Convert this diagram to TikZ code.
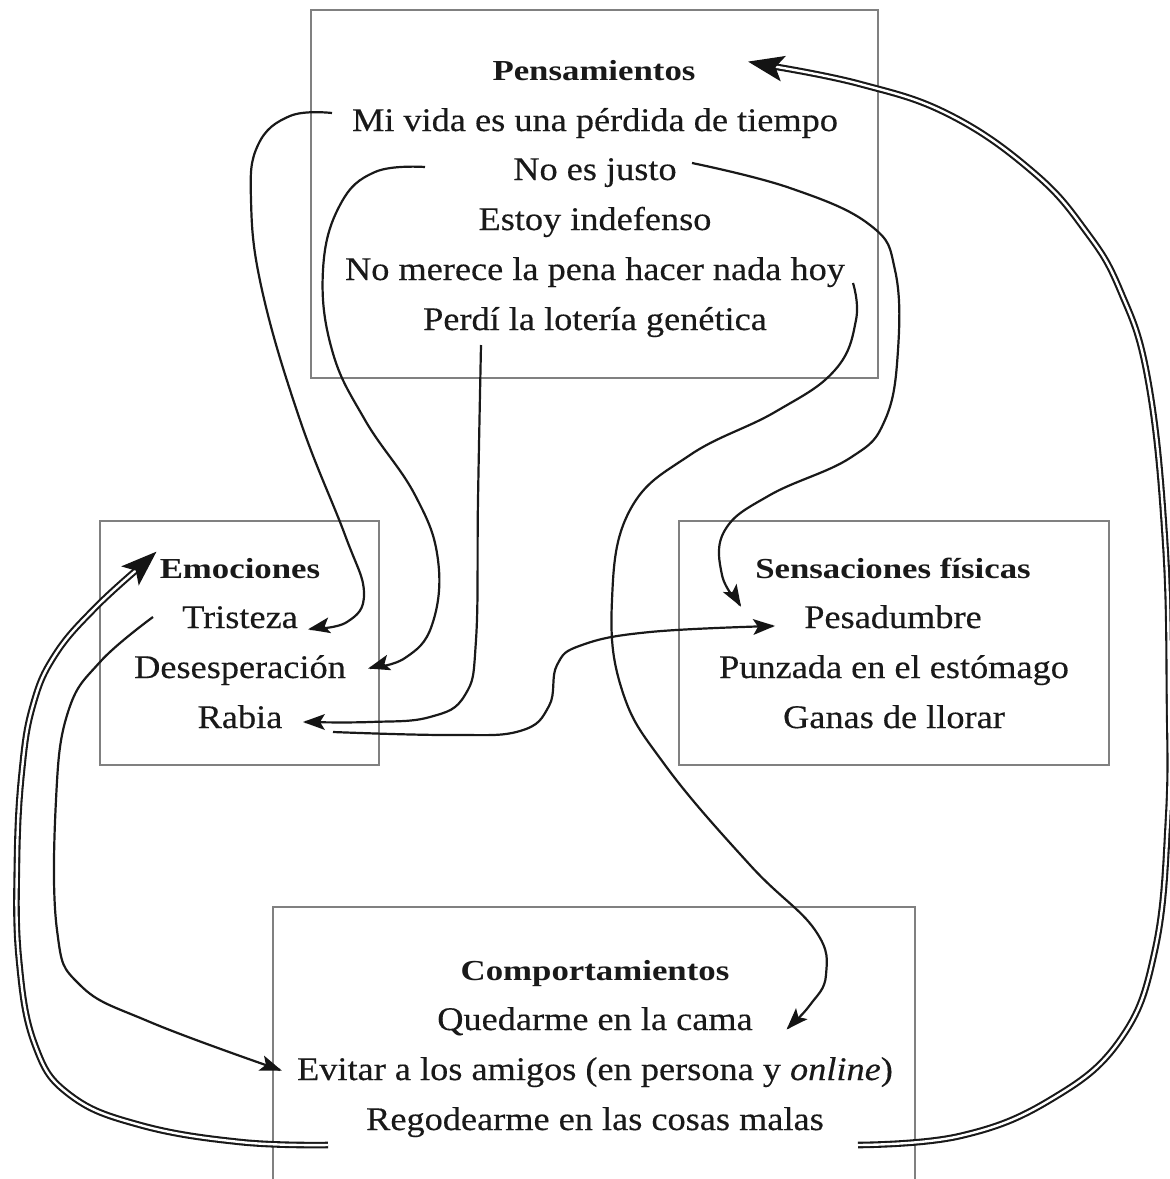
\documentclass[tikz,border=0pt]{standalone}
\usepackage{fontspec}
\setmainfont{Liberation Serif}[FakeStretch=1.1, FakeBold=0.35]
\newfontfamily\ttlfont{Liberation Serif}[FakeStretch=1.2]
\usetikzlibrary{calc}
% arrow head: #1 tip, #2 point behind it, #3 length, #4 half width, #5 notch distance from tip
\newcommand{\myhead}[5]{%
  \fill[black!92] ($(#1)!-2pt!(#2)$) -- ($(#1)!#3!(#2)!#4!90:(#1)$) -- ($(#1)!#5!(#2)$) -- ($(#1)!#3!(#2)!#4!-90:(#1)$) -- cycle;}
\begin{document}
\begin{tikzpicture}[x=1pt,y=-1pt,
  txt/.style={anchor=base, inner sep=0pt, font=\fontsize{33}{38}\selectfont, text=black!90},
  ttl/.style={anchor=base, inner sep=0pt, font=\ttlfont\bfseries\fontsize{29}{34}\selectfont, text=black!90},
  box/.style={draw=black!50, line width=1.8pt, inner sep=0pt},
  conn/.style={line width=2.2pt, black!90},
  douter/.style={line width=6.6pt, black!90},
  dinner/.style={line width=2.4pt, white},
  curve/.style={smooth, tension=0.7}
]
\useasboundingbox (0,0) rectangle (1170,1179);

% boxes
\node[box, minimum width=567pt, minimum height=368pt] (bP) at (594.5,194) {};
\node[box, minimum width=279pt, minimum height=244pt] (bE) at (239.5,643) {};
\node[box, minimum width=430pt, minimum height=244pt] (bS) at (894,643) {};
\node[box, minimum width=642pt, minimum height=393pt] (bC) at (594,1103.5) {};

% Pensamientos
\node[ttl] (pT) at (594,80) {Pensamientos};
\node[txt] (p1) at (595,131) {Mi vida es una pérdida de tiempo};
\node[txt] (p2) at (595,180) {No es justo};
\node[txt] (p3) at (595,230) {Estoy indefenso};
\node[txt] (p4) at (595,280) {No merece la pena hacer nada hoy};
\node[txt] (p5) at (595,330) {Perdí la lotería genética};

% Emociones
\node[ttl] (eT) at (240,578) {Emociones};
\node[txt] (e1) at (240,628) {Tristeza};
\node[txt] (e2) at (240,678) {Desesperación};
\node[txt] (e3) at (240,728) {Rabia};

% Sensaciones
\node[ttl] (sT) at (893,578) {Sensaciones físicas};
\node[txt] (s1) at (893,628) {Pesadumbre};
\node[txt] (s2) at (894,678) {Punzada en el estómago};
\node[txt] (s3) at (894,728) {Ganas de llorar};

% Comportamientos
\node[ttl] (cT) at (595,980) {Comportamientos};
\node[txt] (c1) at (595,1030) {Quedarme en la cama};
\node[txt] (c2) at (595,1080) {Evitar a los amigos (en persona y \textit{online})};
\node[txt] (c3) at (595,1130) {Regodearme en las cosas malas};

% connector ends
\coordinate (ka-s) at (332,113);  \coordinate (ka-p) at (347,622);  \coordinate (ka-e) at (310,629);
\coordinate (kb-s) at (425,167);  \coordinate (kb-p) at (405,658);  \coordinate (kb-e) at (370,668);
\coordinate (kc-s) at (481,345);  \coordinate (kc-p) at (370,722);  \coordinate (kc-e) at (305,722);
\coordinate (kd-s) at (333,732);  \coordinate (kd-p) at (650,632);  \coordinate (kd-e) at (773,626);
\coordinate (ke-s) at (853,283);  \coordinate (ke-p) at (810,1005); \coordinate (ke-e) at (788,1028);
\coordinate (kf-s) at (692,163);  \coordinate (kf-p) at (722,575);  \coordinate (kf-e) at (740,605);
\coordinate (kg-s) at (153,617);  \coordinate (kg-p) at (150,1022); \coordinate (kg-e) at (280,1070);
\coordinate (kh-s) at (328,1145); \coordinate (kh-p) at (95,608);   \coordinate (kh-m) at (144.1,563.4); \coordinate (kh-e) at (155,553);
\coordinate (ki-s) at (858,1145); \coordinate (ki-p) at (860,84);   \coordinate (ki-m) at (764.7,64.9);  \coordinate (ki-e) at (750,62);

% Mi vida -> Tristeza
\draw[conn] plot[curve] coordinates {(ka-s) (290,116) (258,145) (251,200) (262,290) (300,420) (345,535) (364,593) (ka-p) (ka-e)};
\myhead{ka-e}{ka-p}{20pt}{8pt}{15pt}
% No es justo -> Desesperacion
\draw[conn] plot[curve] coordinates {(kb-s) (375,172) (340,205) (323,270) (332,350) (365,420) (415,495) (438,560) (432,625) (kb-p) (kb-e)};
\myhead{kb-e}{kb-p}{20pt}{8pt}{15pt}
% Perdi -> Rabia
\draw[conn] plot[curve] coordinates {(kc-s) (478,500) (476,640) (465,695) (430,717) (kc-p) (kc-e)};
\myhead{kc-e}{kc-p}{20pt}{8pt}{15pt}
% Rabia -> Pesadumbre
\draw[conn] plot[curve] coordinates {(kd-s) (450,735) (520,731) (549,706) (557,665) (582,645) (kd-p) (kd-e)};
\myhead{kd-e}{kd-p}{20pt}{8pt}{15pt}
% No merece -> Quedarme
\draw[conn] plot[curve] coordinates {(ke-s) (856,320) (835,370) (775,412) (690,455) (630,510) (612,600) (622,690) (665,765) (750,865) (815,930) (826,975) (ke-p) (ke-e)};
\myhead{ke-e}{ke-p}{20pt}{8pt}{15pt}
% No es justo -> Pesadumbre
\draw[conn] plot[curve] coordinates {(kf-s) (790,188) (870,225) (895,270) (898,350) (885,420) (850,458) (770,495) (725,530) (kf-p) (kf-e)};
\myhead{kf-e}{kf-p}{20pt}{8pt}{15pt}
% Tristeza -> Evitar
\draw[conn] plot[curve] coordinates {(kg-s) (100,662) (68,712) (56,800) (57,930) (80,985) (kg-p) (kg-e)};
\myhead{kg-e}{kg-p}{20pt}{8pt}{15pt}
% Regodearme -> Emociones (double)
\draw[douter] plot[curve] coordinates {(kh-s) (240,1142) (140,1125) (70,1095) (35,1045) (19,960) (17,860) (22,770) (33,705) (55,655) (kh-p) (kh-m)};
\draw[dinner] plot[curve] coordinates {(kh-s) (240,1142) (140,1125) (70,1095) (35,1045) (19,960) (17,860) (22,770) (33,705) (55,655) (kh-p) (kh-m)};
\myhead{kh-e}{kh-p}{34pt}{13pt}{26pt}
% Regodearme -> Pensamientos (double)
\draw[douter] plot[curve] coordinates {(ki-s) (960,1136) (1050,1100) (1120,1040) (1155,950) (1168,820) (1169,700) (1165,540) (1148,380) (1120,290) (1085,230) (1033,172) (950,115) (ki-p) (ki-m)};
\draw[dinner] plot[curve] coordinates {(ki-s) (960,1136) (1050,1100) (1120,1040) (1155,950) (1168,820) (1169,700) (1165,540) (1148,380) (1120,290) (1085,230) (1033,172) (950,115) (ki-p) (ki-m)};
\myhead{ki-e}{ki-p}{34pt}{13pt}{26pt}
\end{tikzpicture}
\end{document}
